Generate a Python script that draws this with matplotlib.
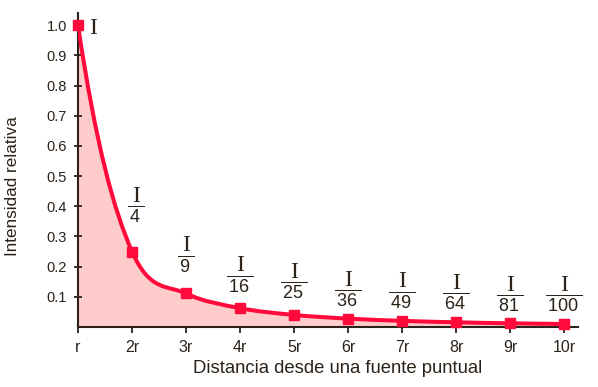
import numpy as np
import matplotlib.pyplot as plt
from matplotlib.path import Path
from matplotlib.patches import PathPatch

plt.rcParams['font.family'] = ['Liberation Sans', 'DejaVu Sans']
plt.rcParams['mathtext.fontset'] = 'custom'
plt.rcParams['mathtext.rm'] = 'Liberation Sans'
plt.rcParams['mathtext.sf'] = 'Liberation Sans'

dist = [1, 2, 3, 4, 5, 6, 7, 8, 9, 10]
intensity = [1.0, 0.25, 0.1111, 0.0625, 0.04, 0.0278, 0.0204, 0.0156, 0.0123, 0.01]
tick_labels = ['r', '2r', '3r', '4r', '5r', '6r', '7r', '8r', '9r', '10r']
y_ticks = [0.1, 0.2, 0.3, 0.4, 0.5, 0.6, 0.7, 0.8, 0.9, 1.0]

denominators = ['4', '9', '16', '25', '36', '49', '64', '81', '100']
label_x = [2.07, 3, 4, 5, 6, 7, 8, 9, 10]
label_y = [0.401, 0.238, 0.172, 0.149, 0.1225, 0.119, 0.1126, 0.106, 0.106]

red = '#ff0a3a'
pink = '#ffcccc'
ink = '#2b2219'


def smooth_path(xs, ys, start_factor=1.6):
    # cubic bezier through the points (catmull-rom tangents, monotone limited)
    xs = np.asarray(xs, float)
    ys = np.asarray(ys, float)
    n = len(xs)
    d = np.diff(ys) / np.diff(xs)
    m = np.zeros(n)
    m[1:-1] = (ys[2:] - ys[:-2]) / (xs[2:] - xs[:-2])
    m[0] = start_factor * d[0]
    m[-1] = d[-1]
    for i in range(n - 1):
        if d[i] == 0:
            continue
        a, b = m[i] / d[i], m[i + 1] / d[i]
        s = a * a + b * b
        if s > 9:
            tau = 3 / np.sqrt(s)
            m[i] = tau * a * d[i]
            m[i + 1] = tau * b * d[i]
    verts = [(xs[0], ys[0])]
    codes = [Path.MOVETO]
    for i in range(n - 1):
        h = xs[i + 1] - xs[i]
        verts += [(xs[i] + h / 3, ys[i] + m[i] * h / 3),
                  (xs[i + 1] - h / 3, ys[i + 1] - m[i + 1] * h / 3),
                  (xs[i + 1], ys[i + 1])]
        codes += [Path.CURVE4] * 3
    return verts, codes


fig = plt.figure(figsize=(5.98, 3.87), dpi=100)
ax = fig.add_axes([0.1304, 0.155, 0.836, 0.811])

verts, codes = smooth_path(dist, intensity)

# pink area under the curve
fill_verts = verts + [(dist[-1], 0), (dist[0], 0), (dist[0], intensity[0])]
fill_codes = codes + [Path.LINETO, Path.LINETO, Path.CLOSEPOLY]
ax.add_patch(PathPatch(Path(fill_verts, fill_codes), facecolor=pink,
                       edgecolor='none', zorder=1))
ax.add_patch(PathPatch(Path(verts, codes), facecolor='none', edgecolor=red,
                       lw=2.9, zorder=3, capstyle='round'))
ax.plot(dist, intensity, ls='none', marker='s', ms=7.5, color=red,
        zorder=4, clip_on=False)

# fraction labels I / n
ax.text(1.28, 0.970, 'I', family=['Liberation Serif', 'DejaVu Serif'],
        fontsize=17, color=ink, ha='center', va='baseline')
for x, y, den in zip(label_x, label_y, denominators):
    ax.annotate('I', xy=(x, y), xytext=(0, 3), textcoords='offset points',
                family=['Liberation Serif', 'DejaVu Serif'], fontsize=17,
                color=ink, ha='center', va='baseline')
    ax.text(x, y, r'$\overline{\,\mathrm{' + den + r'}\,}$', fontsize=13,
            color=ink, ha='center', va='top')

ax.set_xlim(1, 10.25)
ax.set_ylim(0, 1.04)
ax.set_xticks(dist)
ax.set_xticklabels(tick_labels)
ax.set_yticks(y_ticks)
ax.set_yticklabels(['%.1f' % v for v in y_ticks])

for side in ['top', 'right']:
    ax.spines[side].set_visible(False)
for side in ['left', 'bottom']:
    ax.spines[side].set_linewidth(1.5)
    ax.spines[side].set_color(ink)

ax.tick_params(axis='x', direction='out', length=4, width=1.3, pad=5,
               labelsize=11.5, colors=ink)
ax.tick_params(axis='y', direction='inout', length=6, width=1.3, pad=5,
               labelsize=10.5, colors=ink)

ax.set_xlabel('Distancia desde una fuente puntual', fontsize=13.3, color=ink)
ax.set_ylabel('Intensidad relativa', fontsize=12.3, color=ink)
ax.xaxis.set_label_coords(0.52, -0.106)
ax.yaxis.set_label_coords(-0.116, 0.45)

fig.savefig('out.png', dpi=100)
